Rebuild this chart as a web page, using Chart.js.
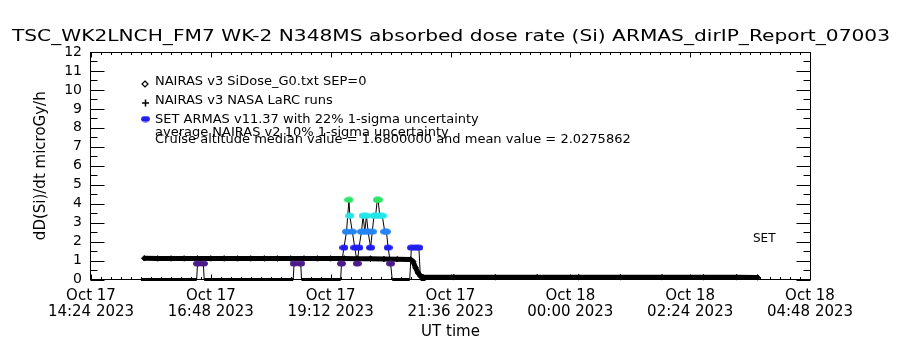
<!DOCTYPE html>
<html>
<head>
<meta charset="utf-8">
<script src="https://cdn.jsdelivr.net/npm/chart.js@4.4.1/dist/chart.umd.min.js"></script>
<style>
  html, body { margin: 0; padding: 0; background: #fff; }
  #wrap { width: 900px; height: 350px; }
</style>
</head>
<body>
<div id="wrap"><canvas id="doseChart" width="900" height="350"></canvas></div>
<script>
// --- chart text ---
const TITLE = 'TSC_WK2LNCH_FM7 WK-2 N348MS absorbed dose rate (Si) ARMAS_dirIP_Report_07003';
const Y_TITLE = 'dD(Si)/dt microGy/h';
const X_TITLE = 'UT time';
const LEGEND_LINES = [
  'NAIRAS v3 SiDose_G0.txt SEP=0',
  'NAIRAS v3 NASA LaRC runs',
  'SET ARMAS v11.37 with 22% 1-sigma uncertainty',
  'average NAIRAS v2 10% 1-sigma uncertainty',
  'Cruise altitude median value = 1.6800000 and mean value = 2.0275862'
];
const SIDE_LABEL = 'SET';

// --- axes (x = minutes after Oct 17 00:00 UT) ---
const X_MIN = 864;
const X_MAX = 1728;
const X_TICK_VALUES = [864, 1008, 1152, 1296, 1440, 1584, 1728];
const X_TICK_LABELS = [
  ['Oct 17', '14:24 2023'],
  ['Oct 17', '16:48 2023'],
  ['Oct 17', '19:12 2023'],
  ['Oct 17', '21:36 2023'],
  ['Oct 18', '00:00 2023'],
  ['Oct 18', '02:24 2023'],
  ['Oct 18', '04:48 2023']
];
const X_MINOR_STEP = 12;
const Y_TICK_VALUES = [0, 1, 2, 3, 4, 5, 6, 7, 8, 9, 10, 11, 12];
const Y_TICK_LABELS = ['0', '1', '2', '3', '4', '5', '6', '7', '8', '9', '10', '11', '12'];
const Y_MINOR_STEP = 0.5;

// --- NAIRAS v3 SiDose model (diamonds) ---
const NAIRAS_T = [928, 944, 960, 976, 992, 1008, 1024, 1040, 1056, 1072, 1088, 1104,
  1120, 1136, 1152, 1168, 1184, 1200, 1216, 1232, 1248, 1251, 1254, 1257, 1260, 1263,
  1300, 1350, 1400, 1450, 1500, 1550, 1600, 1640, 1665];
const NAIRAS_V = [1.12, 1.11, 1.11, 1.11, 1.11, 1.11, 1.11, 1.11, 1.11, 1.11, 1.11, 1.11,
  1.11, 1.11, 1.11, 1.11, 1.10, 1.10, 1.08, 1.07, 1.06, 0.95, 0.62, 0.35, 0.18, 0.13,
  0.12, 0.12, 0.12, 0.12, 0.12, 0.12, 0.12, 0.12, 0.11];

// --- SET ARMAS measurements (quantised dose rate) ---
const SET_T = [924, 991, 992, 999, 1000, 1107, 1108, 1116, 1117, 1164, 1165, 1168,
  1171, 1174, 1175, 1178, 1181, 1184, 1186, 1189, 1191, 1193, 1195, 1197, 1200, 1202,
  1204, 1206, 1208, 1209, 1211, 1214, 1217, 1219, 1221, 1224, 1226, 1247, 1249, 1254,
  1258, 1260, 1266];
const SET_V = [0, 0, 0.84, 0.84, 0, 0, 0.84, 0.84, 0, 0, 0.84, 1.68,
  2.52, 4.2, 3.36, 2.52, 1.68, 0.84, 1.68, 2.52, 3.36, 2.52, 3.36, 2.52, 1.68, 2.52,
  3.36, 3.36, 4.2, 4.2, 3.36, 3.36, 2.52, 2.52, 1.68, 0.84, 0, 0, 1.68, 1.68,
  1.68, 0, 0];

// colour for each SET level
const SET_LEVELS = [0.84, 1.68, 2.52, 3.36, 4.2];
const SET_LEVEL_COLORS = ['#4b1a8a', '#1e1ef0', '#2484f4', '#22e6e8', '#2ee468'];

const FONT = 'DejaVu Sans';
Chart.defaults.font.family = FONT;
Chart.defaults.color = '#000';

function levelIndex(v) {
  return SET_LEVELS.findIndex(l => Math.abs(l - v) < 0.01);
}

// flat elliptical blobs like the IDL symbols
function blob(color) {
  const c = document.createElement('canvas');
  c.width = 9; c.height = 7;
  const g = c.getContext('2d');
  g.fillStyle = color;
  g.beginPath();
  g.ellipse(4.5, 3.5, 4.5, 3, 0, 0, Math.PI * 2);
  g.fill();
  return c;
}
const SET_BLOBS = SET_LEVEL_COLORS.map(blob);

// IDL style box with inward ticks on all four sides
const frameTicks = {
  id: 'frameTicks',
  beforeDatasetsDraw(chart) {
    const { ctx, chartArea: a, scales: { x, y } } = chart;
    const L = Math.round(a.left) - 0.5, R = Math.round(a.right) + 0.5;
    const T = Math.round(a.top) + 0.5, B = Math.round(a.bottom) - 0.5;
    ctx.save();
    ctx.strokeStyle = '#000';
    ctx.lineWidth = 1;
    ctx.strokeRect(L, T, R - L, B - T);
    ctx.beginPath();
    for (let v = X_MIN; v <= X_MAX; v += X_MINOR_STEP) {
      const px = Math.round(x.getPixelForValue(v)) + 0.5;
      const len = X_TICK_VALUES.includes(v) ? 5 : 2.5;
      ctx.moveTo(px, B); ctx.lineTo(px, B - len);
      ctx.moveTo(px, T); ctx.lineTo(px, T + len);
    }
    for (let v = 0; v <= 12; v += Y_MINOR_STEP) {
      const py = Math.round(y.getPixelForValue(v)) + 0.5;
      const len = Y_TICK_VALUES.includes(v) ? 14 : 7;
      ctx.moveTo(L, py); ctx.lineTo(L + len, py);
      ctx.moveTo(R, py); ctx.lineTo(R - len, py);
    }
    ctx.stroke();
    ctx.restore();
  }
};

// title (stretched like the IDL vector font), legend block and side label
const annotations = {
  id: 'annotations',
  afterDraw(chart) {
    const { ctx } = chart;
    ctx.save();
    ctx.fillStyle = '#000';
    ctx.textBaseline = 'middle';

    ctx.font = `15px "${FONT}"`;
    const w = ctx.measureText(TITLE).width;
    ctx.save();
    ctx.translate(451, 37);
    ctx.scale(878 / w, 1);
    ctx.textAlign = 'center';
    ctx.fillText(TITLE, 0, 0);
    ctx.restore();

    ctx.font = `13px "${FONT}"`;
    ctx.textAlign = 'left';
    const rows = [82, 101, 120, 133, 140];
    LEGEND_LINES.forEach((t, i) => ctx.fillText(t, 155, rows[i]));

    // legend symbols
    ctx.strokeStyle = '#000';
    ctx.lineWidth = 1.2;
    ctx.beginPath();
    ctx.moveTo(145, 81); ctx.lineTo(148, 84); ctx.lineTo(145, 87); ctx.lineTo(142, 84); ctx.closePath();
    ctx.stroke();
    ctx.lineWidth = 1.5;
    ctx.beginPath();
    ctx.moveTo(142, 103); ctx.lineTo(149, 103);
    ctx.moveTo(145.5, 99.5); ctx.lineTo(145.5, 106.5);
    ctx.stroke();
    ctx.drawImage(SET_BLOBS[1], 141, 115.5);

    ctx.font = `12px "${FONT}"`;
    ctx.fillText(SIDE_LABEL, 753, 239);
    ctx.restore();
  }
};

new Chart(document.getElementById('doseChart'), {
  type: 'line',
  data: {
    datasets: [
      {
        label: LEGEND_LINES[2],
        data: SET_T.map((t, i) => ({ x: t, y: SET_V[i] })),
        order: 0,
        clip: false,
        borderColor: '#000',
        borderWidth: 1,
        tension: 0,
        segment: {
          borderWidth: c => (c.p0.parsed.y === 0 && c.p1.parsed.y === 0) ? 3 : 1
        },
        pointStyle: c => SET_BLOBS[Math.max(0, levelIndex(c.raw ? c.raw.y : 0))],
        pointRadius: c => (c.raw && c.raw.y > 0 ? 4 : 0)
      },
      {
        label: LEGEND_LINES[0],
        data: NAIRAS_T.map((t, i) => ({ x: t, y: NAIRAS_V[i] })),
        order: 1,
        clip: false,
        borderColor: '#000',
        borderWidth: 5,
        tension: 0,
        pointStyle: 'rectRot',
        pointRadius: 2.8,
        pointBorderWidth: 1,
        pointBorderColor: '#000',
        pointBackgroundColor: '#000'
      }
    ]
  },
  options: {
    responsive: false,
    animation: false,
    devicePixelRatio: 1,
    layout: { padding: { top: 52, right: 90, bottom: 0, left: 0 } },
    plugins: {
      legend: { display: false },
      tooltip: { enabled: false },
      title: { display: false }
    },
    scales: {
      x: {
        type: 'linear',
        min: X_MIN,
        max: X_MAX,
        afterBuildTicks: s => { s.ticks = X_TICK_VALUES.map(v => ({ value: v })); },
        afterFit: s => { s.height = 70.5; },
        grid: { display: false, drawTicks: false },
        border: { display: false },
        ticks: {
          autoSkip: false,
          maxRotation: 0,
          padding: 8,
          color: '#000',
          font: { size: 15, lineHeight: 1.1 },
          callback: (v, i) => X_TICK_LABELS[i]
        },
        title: {
          display: true,
          text: X_TITLE,
          color: '#000',
          font: { size: 15, lineHeight: 1.2 },
          padding: { top: 0, bottom: 9 }
        }
      },
      y: {
        min: 0,
        max: 12,
        afterBuildTicks: s => { s.ticks = Y_TICK_VALUES.map(v => ({ value: v })); },
        afterFit: s => { s.width = 91; },
        grid: { display: false, drawTicks: false },
        border: { display: false },
        ticks: {
          autoSkip: false,
          padding: 9,
          color: '#000',
          font: { size: 14 },
          callback: (v, i) => Y_TICK_LABELS[i]
        },
        title: {
          display: true,
          text: Y_TITLE,
          color: '#000',
          font: { size: 15, lineHeight: 1.2 },
          padding: { top: 32, bottom: 0 }
        }
      }
    }
  },
  plugins: [frameTicks, annotations]
});
</script>
</body>
</html>
